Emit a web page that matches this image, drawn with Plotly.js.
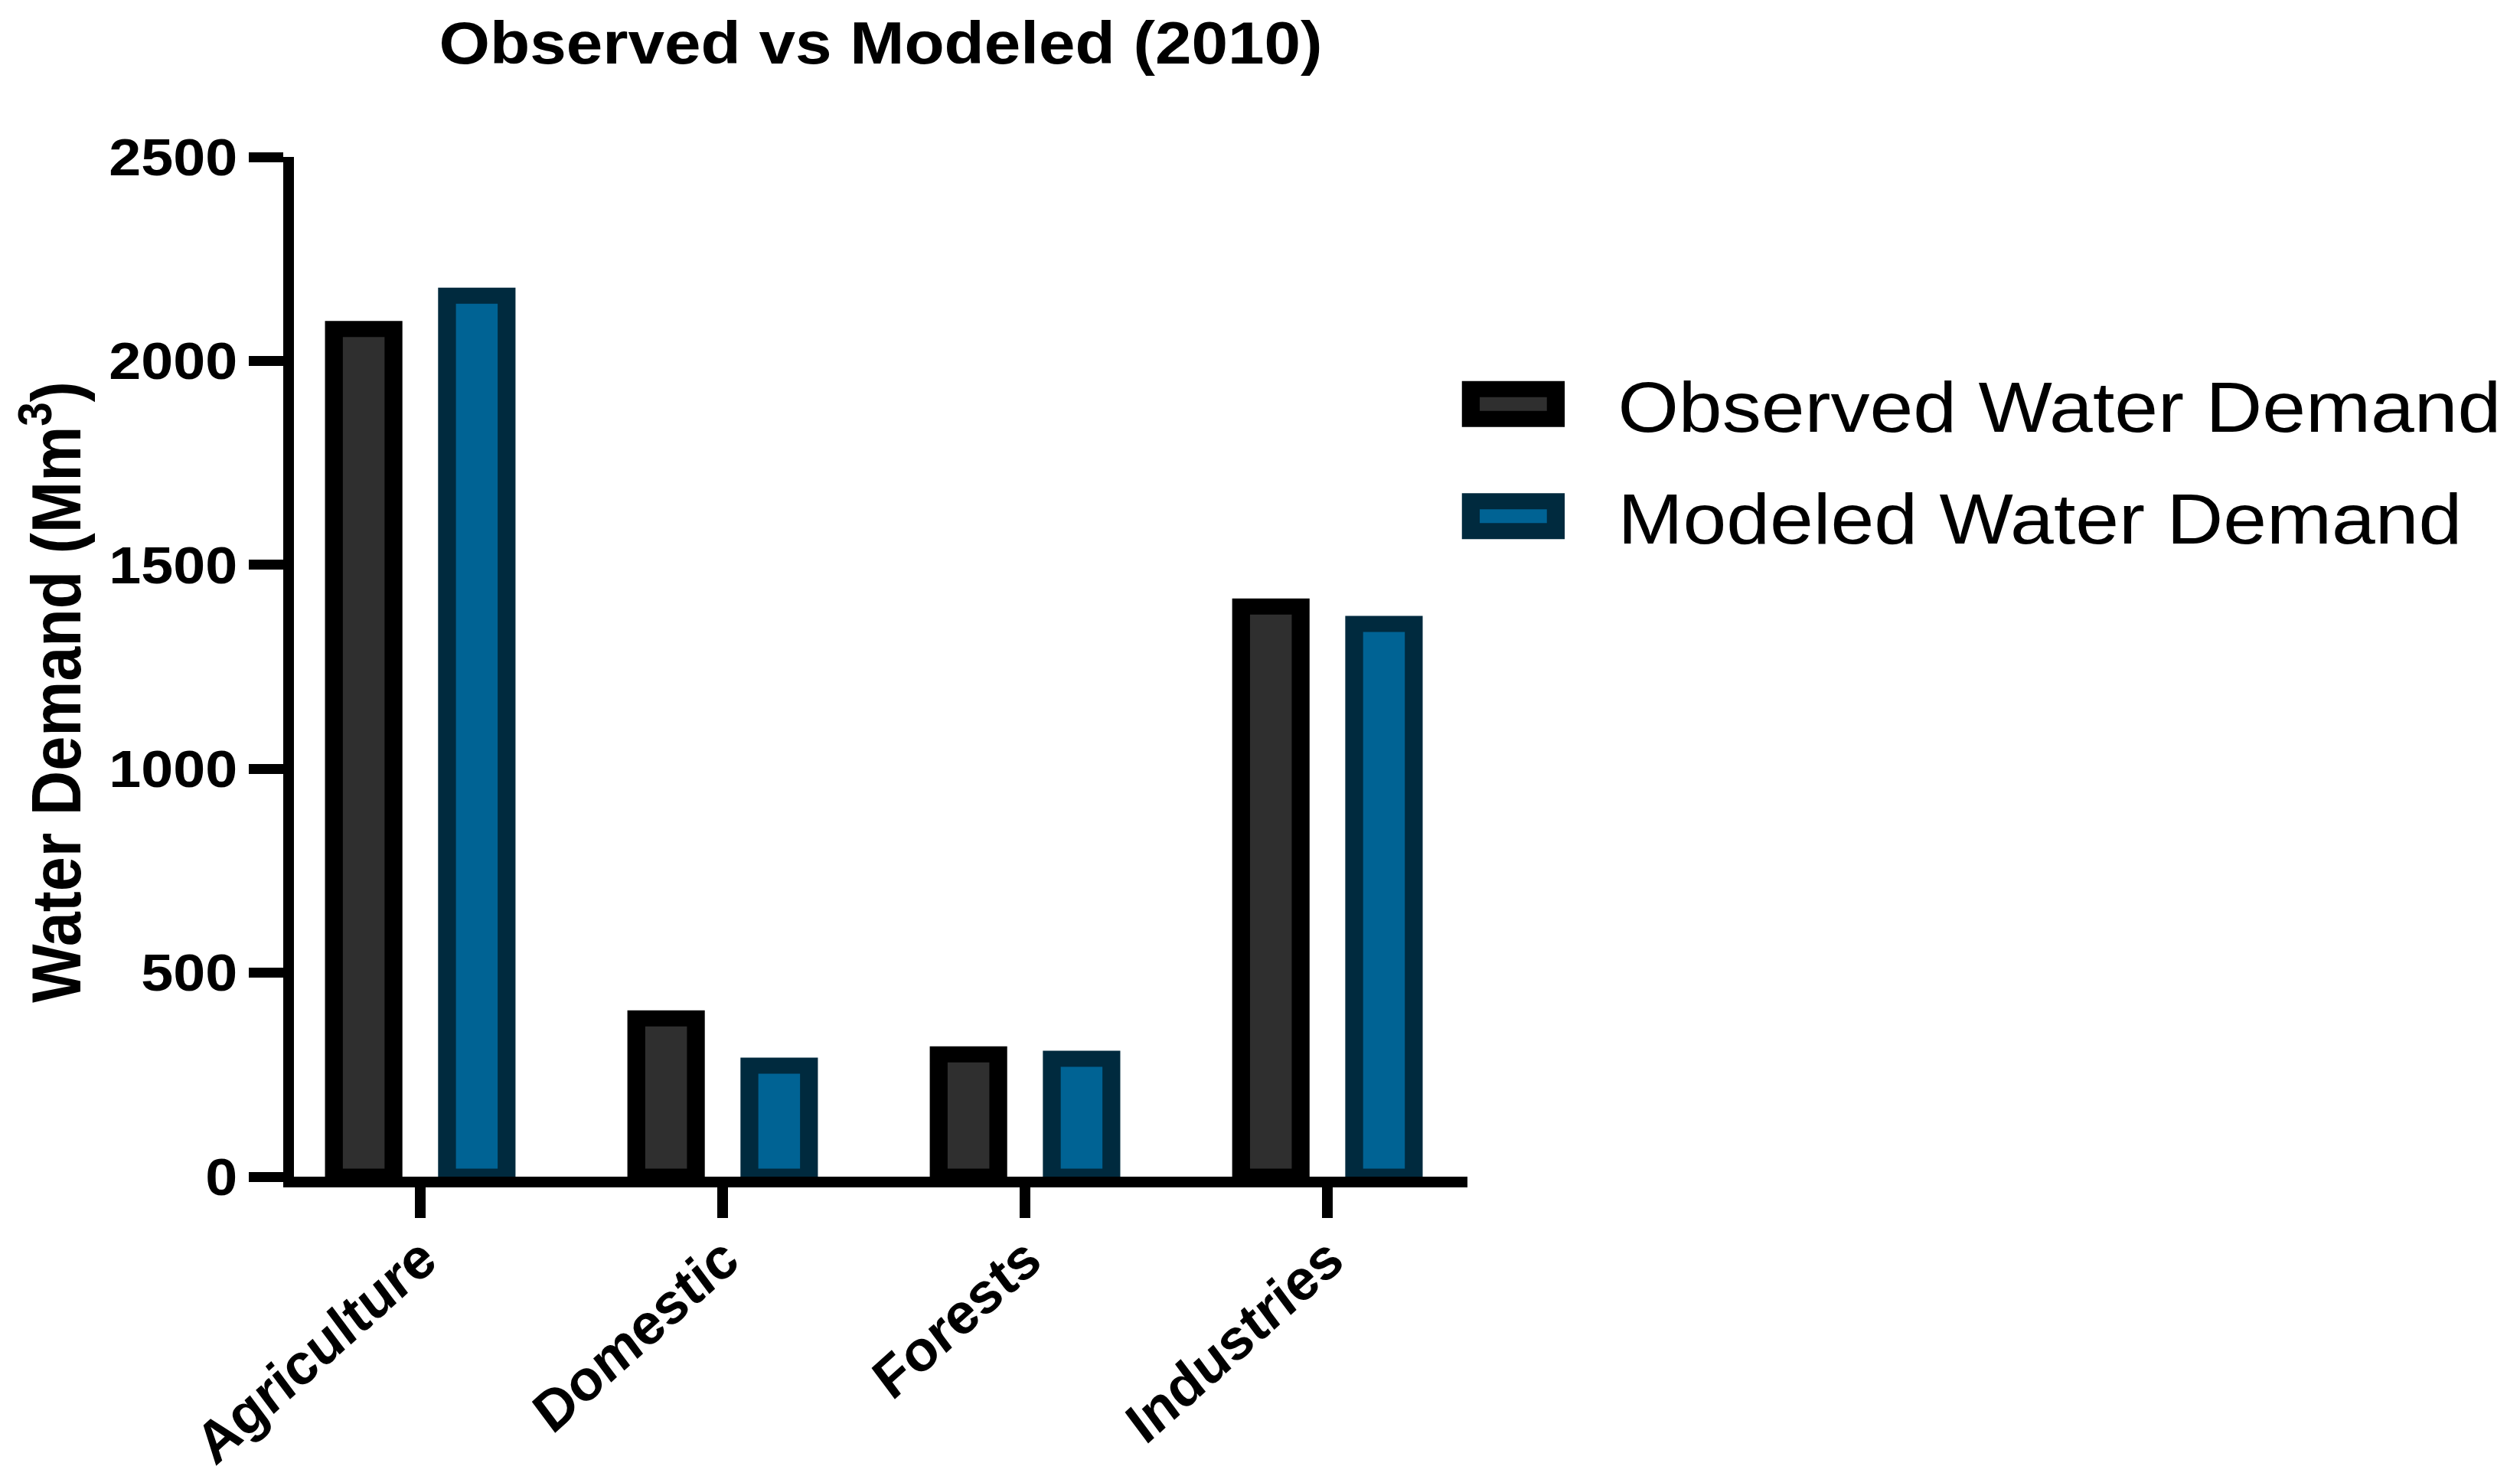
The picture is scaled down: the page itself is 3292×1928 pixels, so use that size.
<!DOCTYPE html>
<html>
<head>
<meta charset="utf-8">
<script src="https://cdn.plot.ly/plotly-3.0.1.min.js"></script>
<style>
html, body { margin: 0; padding: 0; background: #ffffff; overflow: hidden; }
#wrap { width: 2966px; height: 1928px; transform: scaleX(1.11); transform-origin: 0 0; }
</style>
</head>
<body>
<div id="wrap"><div id="chart"></div></div>
<script>
// ---- data ----
const categories = ['Agriculture', 'Domestic', 'Forests', 'Industries'];
const observedDemand = [2078, 388, 300, 1398];
const modeledDemand = [2160, 272, 289, 1355];
const seriesNames = ['Observed Water Demand', 'Modeled Water Demand'];
const yTickValues = [0, 500, 1000, 1500, 2000, 2500];
const yTickLabels = ['0', '500', '1000', '1500', '2000', '2500'];

const FONT = 'Liberation Sans, Arial, sans-serif';

const traces = [
  {
    type: 'bar', name: seriesNames[0], legendgroup: 'obs',
    x: categories, y: observedDemand,
    width: 0.197, offset: -0.2855,
    marker: { color: '#2f2f2f', line: { color: '#000000', width: 21 } },
    hoverinfo: 'x+y'
  },
  {
    type: 'bar', name: seriesNames[1], legendgroup: 'mod',
    x: categories, y: modeledDemand,
    width: 0.197, offset: 0.0885,
    marker: { color: '#006394', line: { color: '#002a3e', width: 21 } },
    hoverinfo: 'x+y'
  }
];

const layout = {
  width: 2966, height: 1928,
  paper_bgcolor: '#ffffff', plot_bgcolor: '#ffffff',
  margin: { l: 346, r: 1239, t: 205, b: 391, autoexpand: false },
  barmode: 'overlay',
  font: { family: FONT, color: '#000000' },
  title: {
    text: 'Observed vs Modeled (2010)',
    font: { family: FONT, size: 77, weight: 'bold', color: '#000000' },
    x: 0.5, xref: 'paper', xanchor: 'center',
    y: 0.9707, yref: 'container', yanchor: 'middle'
  },
  xaxis: {
    type: 'category',
    range: [-0.4175, 3.463],
    showline: true, linecolor: '#000000', linewidth: 14,
    ticks: 'outside', ticklen: 40, tickwidth: 12, tickcolor: '#000000',
    tickangle: -45,
    ticklabelstandoff: -15,
    tickfont: { family: FONT, size: 70, weight: 'bold', style: 'italic', color: '#000000' },
    showgrid: false, zeroline: false, fixedrange: true
  },
  yaxis: {
    range: [0, 2500],
    tickmode: 'array', tickvals: yTickValues, ticktext: yTickLabels,
    showline: true, linecolor: '#000000', linewidth: 13,
    ticks: 'outside', ticklen: 40, tickwidth: 13, tickcolor: '#000000',
    tickfont: { family: FONT, size: 68, weight: 'bold', color: '#000000' },
    showgrid: false, zeroline: false, fixedrange: true,
    title: {
      text: 'Water Demand (Mm<sup>3</sup>)',
      font: { family: FONT, size: 81, weight: 'bold', color: '#000000' },
      standoff: 12
    }
  },
  showlegend: true,
  legend: {
    x: 0.937, xanchor: 'left', xref: 'paper',
    y: 0.8075, yanchor: 'top', yref: 'paper',
    orientation: 'v',
    traceorder: 'grouped',
    tracegroupgap: 24,
    itemwidth: 254,
    bgcolor: 'rgba(0,0,0,0)', borderwidth: 0,
    font: { family: FONT, size: 92, color: '#000000' }
  }
};

Plotly.newPlot('chart', traces, layout, { staticPlot: true, displayModeBar: false }).then(function (gd) {
  // enlarge the legend swatches to the wide framed rectangles of the reference
  gd.querySelectorAll('.legend .legendpoints path').forEach(function (p) {
    p.setAttribute('d', 'M59,19.5H-41V-19.5H59Z');
    p.style.strokeWidth = '21px';
  });
  // the reference's y title sits slightly below the plot-area centre
  var yt = gd.querySelector('.g-ytitle');
  if (yt) yt.setAttribute('transform', 'translate(0,33)');
});
</script>
</body>
</html>
